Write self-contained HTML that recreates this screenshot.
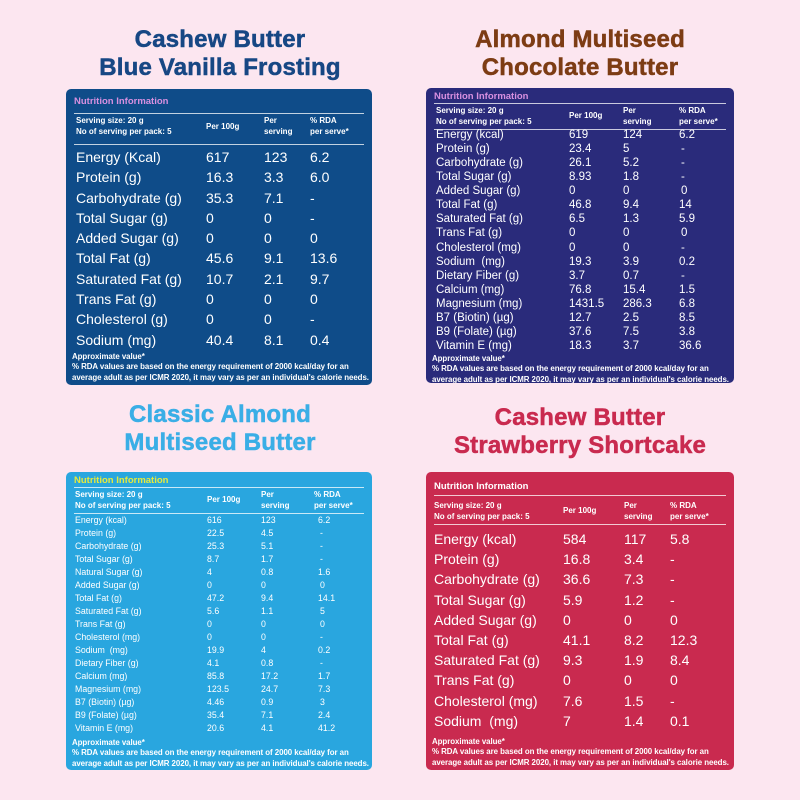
<!DOCTYPE html>
<html><head><meta charset="utf-8"><style>
*{margin:0;padding:0;box-sizing:border-box}
body{width:800px;height:800px;background:#fce6f0;position:relative;overflow:hidden;font-family:"Liberation Sans",sans-serif;color:#fff}
.t{position:absolute;width:360px;text-align:center;font-weight:bold;font-size:24px;line-height:28px;letter-spacing:0.2px;-webkit-text-stroke:0.5px currentColor}
.p{position:absolute;border-radius:5px;overflow:hidden}
.p div{position:absolute;white-space:nowrap}
.ln{height:1px;background:rgba(255,255,255,0.75);left:8px;right:8px}
.h{font-size:8px;font-weight:bold;line-height:10.5px}
.f{font-size:7.9px;line-height:10.3px;font-weight:bold;left:6px;letter-spacing:-0.05px}
.ti{font-size:9.5px;font-weight:bold;left:8px}
.r span{position:absolute;white-space:nowrap}
</style></head><body>

<div class="t" style="left:40px;top:26px;color:#174784">Cashew Butter<br>Blue Vanilla Frosting</div>
<div class="t" style="left:400px;top:26px;color:#7d3c14">Almond Multiseed<br>Chocolate Butter</div>
<div class="t" style="left:40px;top:401px;color:#3aaee6">Classic Almond<br>Multiseed Butter</div>
<div class="t" style="left:400px;top:404px;color:#c92a4f">Cashew Butter<br>Strawberry Shortcake</div>

<!-- TL -->
<div class="p" style="left:66px;top:89px;width:306px;height:296px;background:#0f4c89">
<div class="ti" style="top:7px;color:#d890e0">Nutrition Information</div>
<div class="ln" style="top:24px"></div>
<div class="h" style="left:10px;top:27px">Serving size: 20 g<br>No of serving per pack: 5</div>
<div class="h" style="left:140px;top:33px">Per 100g</div>
<div class="h" style="left:198px;top:27px">Per<br>serving</div>
<div class="h" style="left:244px;top:27px">% RDA<br>per serve*</div>
<div class="ln" style="top:55px"></div>
<div style="left:0;top:58px;font-size:14px;line-height:20.3px">
<div class="r" style="position:relative;height:20.3px"><span style="left:10px">Energy (Kcal)</span><span style="left:140px">617</span><span style="left:198px">123</span><span style="left:244px">6.2</span></div>
<div class="r" style="position:relative;height:20.3px"><span style="left:10px">Protein (g)</span><span style="left:140px">16.3</span><span style="left:198px">3.3</span><span style="left:244px">6.0</span></div>
<div class="r" style="position:relative;height:20.3px"><span style="left:10px">Carbohydrate (g)</span><span style="left:140px">35.3</span><span style="left:198px">7.1</span><span style="left:244px">-</span></div>
<div class="r" style="position:relative;height:20.3px"><span style="left:10px">Total Sugar (g)</span><span style="left:140px">0</span><span style="left:198px">0</span><span style="left:244px">-</span></div>
<div class="r" style="position:relative;height:20.3px"><span style="left:10px">Added Sugar (g)</span><span style="left:140px">0</span><span style="left:198px">0</span><span style="left:244px">0</span></div>
<div class="r" style="position:relative;height:20.3px"><span style="left:10px">Total Fat (g)</span><span style="left:140px">45.6</span><span style="left:198px">9.1</span><span style="left:244px">13.6</span></div>
<div class="r" style="position:relative;height:20.3px"><span style="left:10px">Saturated Fat (g)</span><span style="left:140px">10.7</span><span style="left:198px">2.1</span><span style="left:244px">9.7</span></div>
<div class="r" style="position:relative;height:20.3px"><span style="left:10px">Trans Fat (g)</span><span style="left:140px">0</span><span style="left:198px">0</span><span style="left:244px">0</span></div>
<div class="r" style="position:relative;height:20.3px"><span style="left:10px">Cholesterol (g)</span><span style="left:140px">0</span><span style="left:198px">0</span><span style="left:244px">-</span></div>
<div class="r" style="position:relative;height:20.3px"><span style="left:10px">Sodium (mg)</span><span style="left:140px">40.4</span><span style="left:198px">8.1</span><span style="left:244px">0.4</span></div>
</div>
<div class="f" style="top:263px">Approximate value*<br>% RDA values are based on the energy requirement of 2000 kcal/day for an<br>average adult as per ICMR 2020, it may vary as per an individual's calorie needs.</div>
</div>

<!-- TR -->
<div class="p" style="left:426px;top:88px;width:308px;height:295px;background:#2a2b7b">
<div class="ti" style="top:3px;color:#d890e0">Nutrition Information</div>
<div class="ln" style="top:15px"></div>
<div class="h" style="left:10px;top:18px">Serving size: 20 g<br>No of serving per pack: 5</div>
<div class="h" style="left:143px;top:23px">Per 100g</div>
<div class="h" style="left:197px;top:18px">Per<br>serving</div>
<div class="h" style="left:253px;top:18px">% RDA<br>per serve*</div>
<div class="ln" style="top:41px"></div>
<div style="left:0;top:40px;font-size:11.5px;line-height:14.07px">
<div class="r" style="position:relative;height:14.07px"><span style="left:10px">Energy (kcal)</span><span style="left:143px">619</span><span style="left:197px">124</span><span style="left:253px">6.2</span></div>
<div class="r" style="position:relative;height:14.07px"><span style="left:10px">Protein (g)</span><span style="left:143px">23.4</span><span style="left:197px">5</span><span style="left:255px">-</span></div>
<div class="r" style="position:relative;height:14.07px"><span style="left:10px">Carbohydrate (g)</span><span style="left:143px">26.1</span><span style="left:197px">5.2</span><span style="left:255px">-</span></div>
<div class="r" style="position:relative;height:14.07px"><span style="left:10px">Total Sugar (g)</span><span style="left:143px">8.93</span><span style="left:197px">1.8</span><span style="left:255px">-</span></div>
<div class="r" style="position:relative;height:14.07px"><span style="left:10px">Added Sugar (g)</span><span style="left:143px">0</span><span style="left:197px">0</span><span style="left:255px">0</span></div>
<div class="r" style="position:relative;height:14.07px"><span style="left:10px">Total Fat (g)</span><span style="left:143px">46.8</span><span style="left:197px">9.4</span><span style="left:253px">14</span></div>
<div class="r" style="position:relative;height:14.07px"><span style="left:10px">Saturated Fat (g)</span><span style="left:143px">6.5</span><span style="left:197px">1.3</span><span style="left:253px">5.9</span></div>
<div class="r" style="position:relative;height:14.07px"><span style="left:10px">Trans Fat (g)</span><span style="left:143px">0</span><span style="left:197px">0</span><span style="left:255px">0</span></div>
<div class="r" style="position:relative;height:14.07px"><span style="left:10px">Cholesterol (mg)</span><span style="left:143px">0</span><span style="left:197px">0</span><span style="left:255px">-</span></div>
<div class="r" style="position:relative;height:14.07px"><span style="left:10px">Sodium &nbsp;(mg)</span><span style="left:143px">19.3</span><span style="left:197px">3.9</span><span style="left:253px">0.2</span></div>
<div class="r" style="position:relative;height:14.07px"><span style="left:10px">Dietary Fiber (g)</span><span style="left:143px">3.7</span><span style="left:197px">0.7</span><span style="left:255px">-</span></div>
<div class="r" style="position:relative;height:14.07px"><span style="left:10px">Calcium (mg)</span><span style="left:143px">76.8</span><span style="left:197px">15.4</span><span style="left:253px">1.5</span></div>
<div class="r" style="position:relative;height:14.07px"><span style="left:10px">Magnesium (mg)</span><span style="left:143px">1431.5</span><span style="left:197px">286.3</span><span style="left:253px">6.8</span></div>
<div class="r" style="position:relative;height:14.07px"><span style="left:10px">B7 (Biotin) (µg)</span><span style="left:143px">12.7</span><span style="left:197px">2.5</span><span style="left:253px">8.5</span></div>
<div class="r" style="position:relative;height:14.07px"><span style="left:10px">B9 (Folate) (µg)</span><span style="left:143px">37.6</span><span style="left:197px">7.5</span><span style="left:253px">3.8</span></div>
<div class="r" style="position:relative;height:14.07px"><span style="left:10px">Vitamin E (mg)</span><span style="left:143px">18.3</span><span style="left:197px">3.7</span><span style="left:253px">36.6</span></div>
</div>
<div class="f" style="top:266px">Approximate value*<br>% RDA values are based on the energy requirement of 2000 kcal/day for an<br>average adult as per ICMR 2020, it may vary as per an individual's calorie needs.</div>
</div>

<!-- BL -->
<div class="p" style="left:66px;top:472px;width:306px;height:298px;background:#29a6df">
<div class="ti" style="top:3px;color:#e6ea3c">Nutrition Information</div>
<div class="ln" style="top:15px"></div>
<div class="h" style="left:9px;top:18px">Serving size: 20 g<br>No of serving per pack: 5</div>
<div class="h" style="left:141px;top:23px">Per 100g</div>
<div class="h" style="left:195px;top:18px">Per<br>serving</div>
<div class="h" style="left:248px;top:18px">% RDA<br>per serve*</div>
<div class="ln" style="top:41px"></div>
<div style="left:0;top:41.5px;font-size:8.8px;line-height:13.06px">
<div class="r" style="position:relative;height:13.06px"><span style="left:9px">Energy (kcal)</span><span style="left:141px">616</span><span style="left:195px">123</span><span style="left:252px">6.2</span></div>
<div class="r" style="position:relative;height:13.06px"><span style="left:9px">Protein (g)</span><span style="left:141px">22.5</span><span style="left:195px">4.5</span><span style="left:254px">-</span></div>
<div class="r" style="position:relative;height:13.06px"><span style="left:9px">Carbohydrate (g)</span><span style="left:141px">25.3</span><span style="left:195px">5.1</span><span style="left:254px">-</span></div>
<div class="r" style="position:relative;height:13.06px"><span style="left:9px">Total Sugar (g)</span><span style="left:141px">8.7</span><span style="left:195px">1.7</span><span style="left:254px">-</span></div>
<div class="r" style="position:relative;height:13.06px"><span style="left:9px">Natural Sugar (g)</span><span style="left:141px">4</span><span style="left:195px">0.8</span><span style="left:252px">1.6</span></div>
<div class="r" style="position:relative;height:13.06px"><span style="left:9px">Added Sugar (g)</span><span style="left:141px">0</span><span style="left:195px">0</span><span style="left:254px">0</span></div>
<div class="r" style="position:relative;height:13.06px"><span style="left:9px">Total Fat (g)</span><span style="left:141px">47.2</span><span style="left:195px">9.4</span><span style="left:252px">14.1</span></div>
<div class="r" style="position:relative;height:13.06px"><span style="left:9px">Saturated Fat (g)</span><span style="left:141px">5.6</span><span style="left:195px">1.1</span><span style="left:254px">5</span></div>
<div class="r" style="position:relative;height:13.06px"><span style="left:9px">Trans Fat (g)</span><span style="left:141px">0</span><span style="left:195px">0</span><span style="left:254px">0</span></div>
<div class="r" style="position:relative;height:13.06px"><span style="left:9px">Cholesterol (mg)</span><span style="left:141px">0</span><span style="left:195px">0</span><span style="left:254px">-</span></div>
<div class="r" style="position:relative;height:13.06px"><span style="left:9px">Sodium &nbsp;(mg)</span><span style="left:141px">19.9</span><span style="left:195px">4</span><span style="left:252px">0.2</span></div>
<div class="r" style="position:relative;height:13.06px"><span style="left:9px">Dietary Fiber (g)</span><span style="left:141px">4.1</span><span style="left:195px">0.8</span><span style="left:254px">-</span></div>
<div class="r" style="position:relative;height:13.06px"><span style="left:9px">Calcium (mg)</span><span style="left:141px">85.8</span><span style="left:195px">17.2</span><span style="left:252px">1.7</span></div>
<div class="r" style="position:relative;height:13.06px"><span style="left:9px">Magnesium (mg)</span><span style="left:141px">123.5</span><span style="left:195px">24.7</span><span style="left:252px">7.3</span></div>
<div class="r" style="position:relative;height:13.06px"><span style="left:9px">B7 (Biotin) (µg)</span><span style="left:141px">4.46</span><span style="left:195px">0.9</span><span style="left:254px">3</span></div>
<div class="r" style="position:relative;height:13.06px"><span style="left:9px">B9 (Folate) (µg)</span><span style="left:141px">35.4</span><span style="left:195px">7.1</span><span style="left:252px">2.4</span></div>
<div class="r" style="position:relative;height:13.06px"><span style="left:9px">Vitamin E (mg)</span><span style="left:141px">20.6</span><span style="left:195px">4.1</span><span style="left:252px">41.2</span></div>
</div>
<div class="f" style="top:266px">Approximate value*<br>% RDA values are based on the energy requirement of 2000 kcal/day for an<br>average adult as per ICMR 2020, it may vary as per an individual's calorie needs.</div>
</div>

<!-- BR -->
<div class="p" style="left:426px;top:472px;width:308px;height:298px;background:#c92a4f">
<div class="ti" style="top:9px;color:#fff">Nutrition Information</div>
<div class="ln" style="top:23px"></div>
<div class="h" style="left:8px;top:29px">Serving size: 20 g<br>No of serving per pack: 5</div>
<div class="h" style="left:137px;top:34px">Per 100g</div>
<div class="h" style="left:198px;top:29px">Per<br>serving</div>
<div class="h" style="left:244px;top:29px">% RDA<br>per serve*</div>
<div class="ln" style="top:52px"></div>
<div style="left:0;top:57px;font-size:14px;line-height:20.2px">
<div class="r" style="position:relative;height:20.2px"><span style="left:8px">Energy (kcal)</span><span style="left:137px">584</span><span style="left:198px">117</span><span style="left:244px">5.8</span></div>
<div class="r" style="position:relative;height:20.2px"><span style="left:8px">Protein (g)</span><span style="left:137px">16.8</span><span style="left:198px">3.4</span><span style="left:244px">-</span></div>
<div class="r" style="position:relative;height:20.2px"><span style="left:8px">Carbohydrate (g)</span><span style="left:137px">36.6</span><span style="left:198px">7.3</span><span style="left:244px">-</span></div>
<div class="r" style="position:relative;height:20.2px"><span style="left:8px">Total Sugar (g)</span><span style="left:137px">5.9</span><span style="left:198px">1.2</span><span style="left:244px">-</span></div>
<div class="r" style="position:relative;height:20.2px"><span style="left:8px">Added Sugar (g)</span><span style="left:137px">0</span><span style="left:198px">0</span><span style="left:244px">0</span></div>
<div class="r" style="position:relative;height:20.2px"><span style="left:8px">Total Fat (g)</span><span style="left:137px">41.1</span><span style="left:198px">8.2</span><span style="left:244px">12.3</span></div>
<div class="r" style="position:relative;height:20.2px"><span style="left:8px">Saturated Fat (g)</span><span style="left:137px">9.3</span><span style="left:198px">1.9</span><span style="left:244px">8.4</span></div>
<div class="r" style="position:relative;height:20.2px"><span style="left:8px">Trans Fat (g)</span><span style="left:137px">0</span><span style="left:198px">0</span><span style="left:244px">0</span></div>
<div class="r" style="position:relative;height:20.2px"><span style="left:8px">Cholesterol (mg)</span><span style="left:137px">7.6</span><span style="left:198px">1.5</span><span style="left:244px">-</span></div>
<div class="r" style="position:relative;height:20.2px"><span style="left:8px">Sodium &nbsp;(mg)</span><span style="left:137px">7</span><span style="left:198px">1.4</span><span style="left:244px">0.1</span></div>
</div>
<div class="f" style="top:265px">Approximate value*<br>% RDA values are based on the energy requirement of 2000 kcal/day for an<br>average adult as per ICMR 2020, it may vary as per an individual's calorie needs.</div>
</div>

</body></html>
